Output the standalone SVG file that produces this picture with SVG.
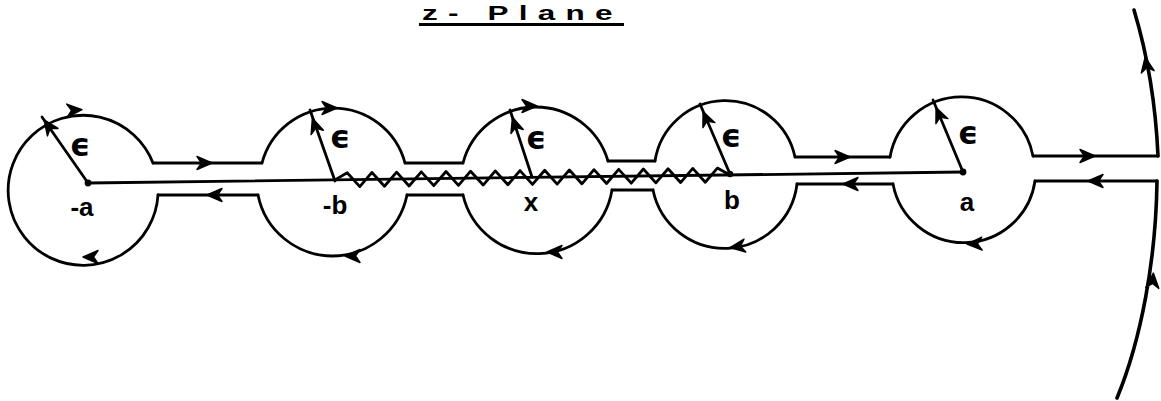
<svg xmlns="http://www.w3.org/2000/svg" width="1161" height="401" viewBox="0 0 1161 401">
<style>
.ln{fill:none;stroke:#000;stroke-width:2.8;stroke-linecap:round;stroke-linejoin:round}
.big{fill:none;stroke:#000;stroke-width:3.6;stroke-linecap:round}
.lbl{font-family:"Liberation Sans",Arial,sans-serif;font-weight:bold;font-size:26px;fill:#000;text-anchor:middle}
.eps{font-family:"DejaVu Sans","Liberation Sans",sans-serif;font-weight:bold;font-size:32px;fill:#000;text-anchor:middle}
.ttl{font-family:"Liberation Sans",Arial,sans-serif;font-weight:bold;font-size:21px;fill:#000}
</style>
<defs>
<path id="ah" d="M-10,-6.5 L5,0 L-10,6.5 L-5.5,0 Z" fill="#000" stroke="#000" stroke-width="1.4" stroke-linejoin="round"/>
</defs>
<rect width="1161" height="401" fill="#fff"/>

<g id="title">
<text class="ttl" transform="translate(422,20) scale(1.5,1)" x="0" y="0" textLength="127" lengthAdjust="spacing">z- Plane</text>
<line x1="419" y1="24.5" x2="624" y2="24.5" stroke="#000" stroke-width="3"/>
</g>

<g id="connectors">
<line class="ln" x1="88" y1="183" x2="963" y2="172"/>
<polyline class="ln" stroke-width="2.6" transform="translate(335,179.9) rotate(-0.72)" points="0,0 12.3,-7 24.7,7 37,-7 49.4,7 61.7,-7 74,7 86.4,-7 98.7,7 111.1,-7 123.4,7 135.7,-7 148.1,7 160.4,-7 172.8,7 185.1,-7 197.4,7 209.8,-7 222.1,7 234.5,-7 246.8,7 259.1,-7 271.5,7 283.8,-7 296.2,7 308.5,-7 320.8,7 333.2,-7 345.5,7 357.9,-7 370.2,7 382.5,-7 395,0"/>
<line class="ln" x1="153" y1="163" x2="262" y2="163"/>
<line class="ln" x1="158" y1="195" x2="258" y2="195"/>
<line class="ln" x1="405" y1="163" x2="463" y2="163"/>
<line class="ln" x1="407" y1="195" x2="463" y2="195"/>
<line class="ln" x1="608" y1="161" x2="655" y2="161"/>
<line class="ln" x1="612" y1="190" x2="653" y2="190"/>
<line class="ln" x1="795" y1="157" x2="890" y2="157"/>
<line class="ln" x1="797" y1="184" x2="893" y2="184"/>
<line class="ln" x1="1033" y1="156" x2="1158" y2="156"/>
<line class="ln" x1="1035" y1="181" x2="1157" y2="181"/>
<path class="big" d="M1158,156 C1156,110 1149,60 1134,10"/>
<path class="big" d="M1157,181 C1156,260 1141,340 1117,398"/>
<use href="#ah" transform="translate(207,163)"/>
<use href="#ah" transform="translate(212,195) rotate(180)"/>
<use href="#ah" transform="translate(845,157)"/>
<use href="#ah" transform="translate(848,184) rotate(180)"/>
<use href="#ah" transform="translate(1090,156)"/>
<use href="#ah" transform="translate(1093,181) rotate(180)"/>
<use href="#ah" transform="translate(1146,62) rotate(-100)"/>
<use href="#ah" transform="translate(1153,278) rotate(-86)"/>
</g>

<g id="pole-minus-a">
<path class="ln" d="M153,163 A75,75 0 1 0 158,195"/>
<line class="ln" x1="88" y1="183" x2="42" y2="117"/>
<use href="#ah" transform="translate(47,124) rotate(-125)"/>
<use href="#ah" transform="translate(77,110) rotate(-3)"/>
<use href="#ah" transform="translate(88,257) rotate(180)"/>
<circle cx="88" cy="183" r="3.4"/>
<text class="eps" x="80" y="156">ϵ</text>
<text class="lbl" x="82" y="216">-a</text>
</g>

<g id="pole-minus-b">
<path class="ln" d="M262,163 A74,74 0 0 1 405,163"/>
<path class="ln" d="M407,195 A76,76 0 0 1 258,195"/>
<line class="ln" x1="335" y1="181" x2="310" y2="110"/>
<use href="#ah" transform="translate(314,123) rotate(-109)"/>
<use href="#ah" transform="translate(332,108) rotate(0)"/>
<use href="#ah" transform="translate(350,256) rotate(180)"/>
<text class="eps" x="340" y="148">ϵ</text>
<text class="lbl" x="335" y="214">-b</text>
</g>

<g id="point-x">
<path class="ln" d="M463,163 A75.3,75.3 0 0 1 608,161"/>
<path class="ln" d="M612,190 A76,76 0 0 1 463,195"/>
<line class="ln" x1="532" y1="177" x2="510" y2="110"/>
<use href="#ah" transform="translate(514,122) rotate(-108)"/>
<use href="#ah" transform="translate(532,106) rotate(0)"/>
<use href="#ah" transform="translate(552,252) rotate(180)"/>
<text class="eps" x="536" y="149">ϵ</text>
<text class="lbl" x="531" y="211">x</text>
</g>

<g id="pole-b">
<path class="ln" d="M655,161 A71.2,71.2 0 0 1 795,157"/>
<path class="ln" d="M797,184 A73,73 0 0 1 653,190"/>
<line class="ln" x1="730" y1="174" x2="700" y2="104"/>
<use href="#ah" transform="translate(705,116) rotate(-113)"/>
<use href="#ah" transform="translate(735,247) rotate(172)"/>
<circle cx="730" cy="174" r="3.2"/>
<text class="eps" x="731" y="147">ϵ</text>
<text class="lbl" x="732" y="209">b</text>
</g>

<g id="pole-a">
<path class="ln" d="M890,157 A72.7,72.7 0 0 1 1033,156"/>
<path class="ln" d="M1035,181 A72,72 0 0 1 893,184"/>
<line class="ln" x1="963" y1="172" x2="933" y2="100"/>
<use href="#ah" transform="translate(938,112) rotate(-113)"/>
<use href="#ah" transform="translate(972,244) rotate(178)"/>
<circle cx="963" cy="172" r="3.4"/>
<text class="eps" x="968" y="144">ϵ</text>
<text class="lbl" x="967" y="211">a</text>
</g>
</svg>
